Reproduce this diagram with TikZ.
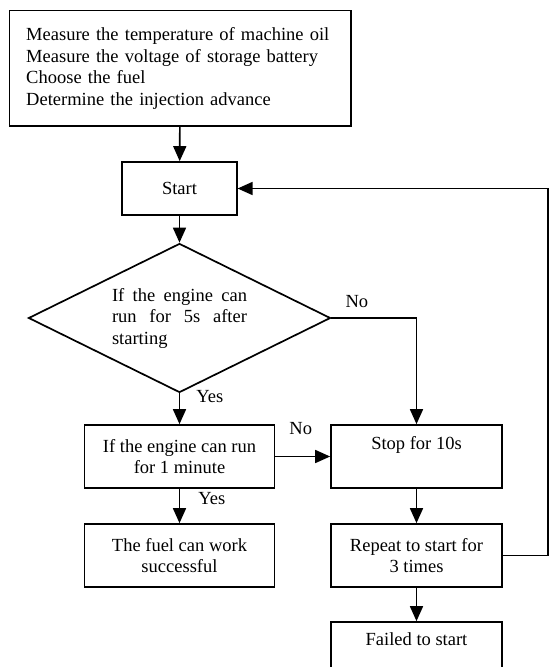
\documentclass[tikz,border=0pt]{standalone}
\usepackage{fontspec}
\setmainfont{Liberation Serif}
\usetikzlibrary{arrows.meta,shapes.geometric}

\begin{document}
\begin{tikzpicture}[x=1pt, y=-1pt, line width=1.7pt,
    every node/.style={font=\fontsize{18.5}{21.5}\selectfont, inner sep=0pt},
    boite/.style={draw, rectangle, align=center, minimum height=63pt},
    gauche/.style={boite, minimum width=190pt},
    droite/.style={boite, minimum width=171pt},
    losange/.style={draw, diamond, aspect=2, minimum width=302pt, minimum height=149pt, text width=135pt, align=justify},
    fleche/.style={-{Triangle[length=15pt,width=13pt]}}]
    % cadre de l'image
    \useasboundingbox (0,0) rectangle (549,667);
    % définition des boîtes
    \node[boite, minimum width=341.5pt, minimum height=115.5pt, text width=308pt, align=left] (mesure) at (180.25,68.25)
        {Measure the temperature of machine oil\\ Measure the voltage of storage battery\\ Choose the fuel\\ Determine the injection advance};
    \node[boite, minimum width=114.5pt, minimum height=53pt] (start) at (179.5,188.5) {Start};
    \node[losange] (test) at (179.5,318) {If the engine can\linebreak run for 5s after\linebreak starting};
    \node[gauche] (run) at (179.5,456.5) {If the engine can run\\ for 1 minute};
    \node[droite] (stop) at (416.5,456.5) {Stop for 10s\\ \strut};
    \node[gauche] (fuel) at (179.5,555.5) {The fuel can work\\ successful};
    \node[droite] (repeat) at (416.5,555.5) {Repeat to start for\\ 3 times};
    \node[droite] (failed) at (416.5,653.5) {Failed to start\\ \strut};
    \coordinate (retour) at (548,188.5);
    % flèches
    \draw[fleche] (mesure) -- (start);
    \draw[fleche] (start) -- (test.north);
    \draw[fleche] (test.east) -| node[pos=.15, above, yshift=9pt] (non1) {No} (stop.north);
    \draw[fleche] (test.south) -- node[pos=.1, right=16pt] (oui1) {Yes} (run.north);
    \draw[fleche] (run.east) -- node[above, xshift=-2pt, yshift=21pt] (non2) {No} (stop.west);
    \draw[fleche] (run.south) -- node[pos=.28, right=18pt] (oui2) {Yes} (fuel.north);
    \draw[fleche] (stop) -- (repeat);
    \draw[fleche] (repeat) -- (failed);
    \draw[fleche] (repeat.east) -| (retour) -- (start.east);
\end{tikzpicture}
\end{document}
